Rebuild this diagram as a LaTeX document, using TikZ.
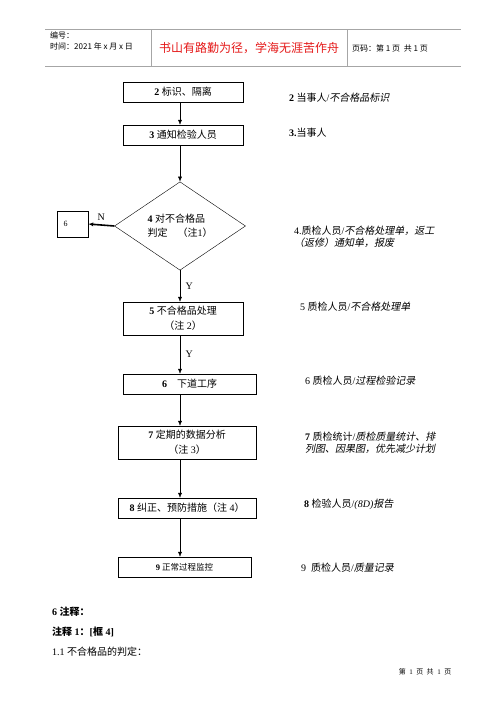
\documentclass[tikz,border=0pt]{standalone}
\usepackage{fontspec}
\setmainfont{Liberation Serif}
\newfontfamily\zh{Noto Sans CJK SC}
\newfontfamily\zhit[FakeSlant=0.2]{Noto Sans CJK SC}
\usetikzlibrary{shapes.geometric,arrows.meta}
\definecolor{motto}{RGB}{228,24,24}
\tikzset{
  stepbox/.style={draw, thin, minimum height=20pt, inner sep=1pt, align=center,
    font={\fontsize{10}{15}\selectfont}},
  decbox/.style={diamond, draw, thin, minimum width=131pt, minimum height=84pt,
    inner sep=0pt, align=left, font={\fontsize{10}{14}\selectfont}},
  note/.style={anchor=west, align=left, inner sep=0pt, font={\fontsize{10}{12}\selectfont}},
  flow/.style={->, >={Latex[length=5pt,width=4pt]}},
}

\begin{document}
\begin{tikzpicture}[x=1pt, y=-1pt]
\useasboundingbox (0,0) rectangle (500,707);

% header
\draw[gray!70] (45,29) -- (461,29);
\draw[gray!70] (45,66) -- (461,66);
\draw[gray!70] (151,29) -- (151,66);
\draw[gray!70] (347,29) -- (347,66);
\node[note, font={\zh\fontsize{8}{10}\selectfont}] (code) at (50,35) {编号：};
\node[note, font={\zh\fontsize{8}{10}\selectfont}] (date) at (50,46) {时间：2021 年 x 月 x 日};
\node[font={\zh\fontsize{12}{14}\selectfont}, text=motto] (motto) at (249,48) {书山有路勤为径，学海无涯苦作舟};
\node[note, font={\zh\fontsize{8}{10}\selectfont}] (page) at (352,48) {页码：第 1 页 \ 共 1 页};

\coordinate (col) at (180,0);

% flow
\node[stepbox, minimum width=120pt] (b2) at (183,92) {\textbf{2} {\zh 标识、隔离}};
\node[stepbox, minimum width=120pt] (b3) at (183,135) {\textbf{3} {\zh 通知检验人员}};
\node[decbox] (judge) at (180,226) {\textbf{4} {\zh 对不合格品}\\{\zh 判定\quad （注}1{\zh ）}};
\node[draw, thin, minimum width=31pt, minimum height=26pt, text width=18pt, align=left,
  inner sep=0pt, font={\fontsize{8}{10}\selectfont}] (back) at (72.5,224) {6};
\node[stepbox, minimum width=120pt, minimum height=33pt] (b5) at (183,318.5) {\textbf{5} {\zh 不合格品处理}\\{\zh （注} 2{\zh ）}};
\node[stepbox, minimum width=133pt] (b6) at (189.5,384) {\textbf{6}\quad{\zh 下道工序}};
\node[stepbox, minimum width=138pt, minimum height=33pt] (b7) at (187,442.5) {\textbf{7} {\zh 定期的数据分析}\\{\zh （注} 3{\zh ）}};
\node[stepbox, minimum width=138pt] (b8) at (187,508) {\textbf{8} {\zh 纠正、预防措施（注} 4{\zh ）}};
\node[stepbox, minimum width=133pt, font={\fontsize{8.5}{10}\selectfont}] (b9) at (184.5,567) {\textbf{9} {\zh 正常过程监控}};

\draw[flow] (b2.south -| col) -- (b3.north -| col);
\draw[flow] (b3.south -| col) -- (judge.north);
\draw[flow, line width=1.6pt] (judge.west) -- node[above, font={\fontsize{10}{12}\selectfont}] {N} (back.east);
\draw[flow] (judge.south) -- node[right, xshift=2pt, font={\fontsize{10}{12}\selectfont}] {Y} (b5.north -| col);
\draw[flow] (b5.south -| col) -- node[right, xshift=2pt, font={\fontsize{10}{12}\selectfont}] {Y} (b6.north -| col);
\draw[flow] (b6.south -| col) -- (b7.north -| col);
\draw[flow] (b7.south -| col) -- (b8.north -| col);
\draw[flow] (b8.south -| col) -- (b9.north -| col);

% records
\node[note] (r2) at (289,98) {\textbf{2} {\zh 当事人}/{\zhit 不合格品标识}};
\node[note] (r3) at (289,133) {\textbf{3.}{\zh 当事人}};
\node[note] (r4) at (294,237) {4.{\zh 质检人员}/{\zhit 不合格处理单，返工}\\{\zhit （返修）通知单，报废}};
\node[note] (r5) at (300,307) {5 {\zh 质检人员}/{\zhit 不合格处理单}};
\node[note] (r6) at (305,381) {6 {\zh 质检人员}/{\zhit 过程检验记录}};
\node[note] (r7) at (305,443) {\textbf{7} {\zh 质检统计}/{\zhit 质检质量统计、排}\\{\zhit 列图、因果图，优先减少计划}};
\node[note] (r8) at (304,504) {\textbf{8} {\zh 检验人员}/\textit{(8D)}{\zhit 报告}};
\node[note] (r9) at (301,568) {9\ \ {\zh 质检人员}/{\zhit 质量记录}};

% notes
\node[note] (n1) at (52,612) {\textbf{6} {\zh\bfseries 注释：}};
\node[note] (n2) at (52,632) {{\zh\bfseries 注释} \textbf{1}{\zh\bfseries ：}\textbf{[}{\zh\bfseries 框} \textbf{4]}};
\node[note] (n3) at (52,652) {1.1 {\zh 不合格品的判定：}};
\node[font={\fontsize{7}{9}\selectfont}] (foot) at (425,672) {{\zh 第} \ 1 \ {\zh 页} \ {\zh 共} \ 1 \ {\zh 页}};

\end{tikzpicture}
\end{document}
